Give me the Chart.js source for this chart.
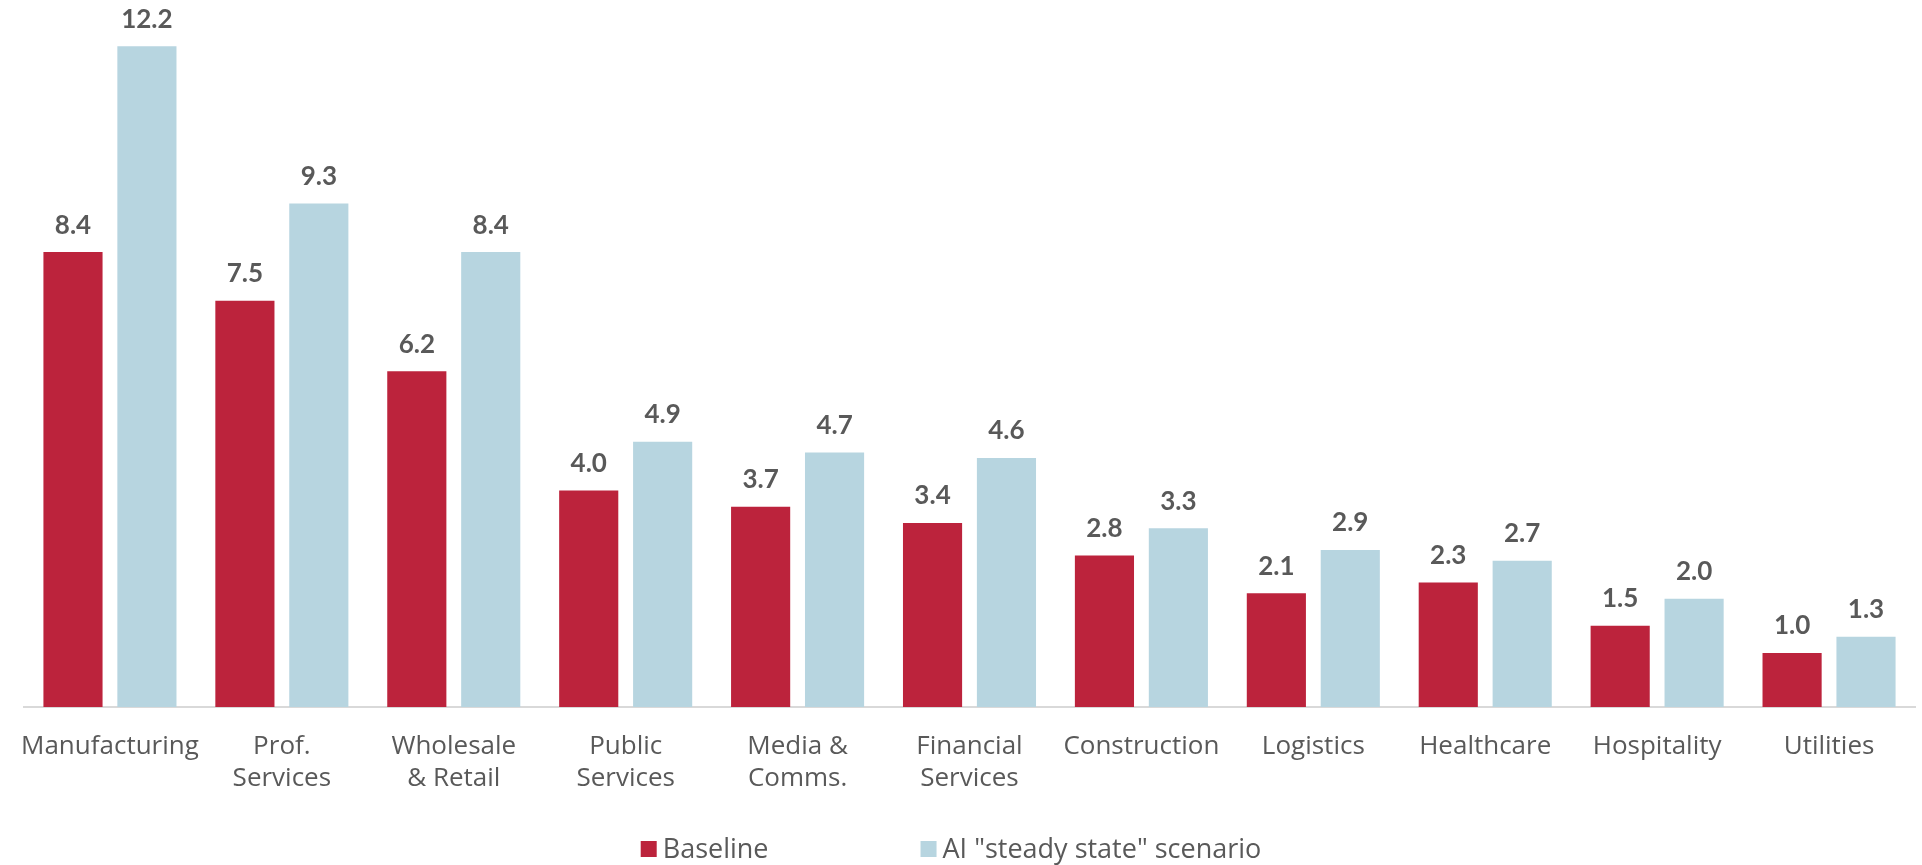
<!DOCTYPE html>
<html>
<head>
<meta charset="utf-8">
<script src="https://cdn.jsdelivr.net/npm/chart.js@4.4.1/dist/chart.umd.min.js"></script>
<style>
    html, body { margin: 0; padding: 0; background: #fff; }
    #wrap { width: 1922px; height: 865px; position: relative; }
</style>
</head>
<body>
<div id="wrap"><canvas id="barSetores"></canvas></div>
<script>
// setores e valores das duas séries
const setores = ['Manufacturing', ['Prof.', 'Services'], ['Wholesale', '& Retail'], ['Public', 'Services'],
    ['Media &', 'Comms.'], ['Financial', 'Services'], 'Construction', 'Logistics', 'Healthcare', 'Hospitality', 'Utilities'];
const baseline = [8.4, 7.5, 6.2, 4.0, 3.7, 3.4, 2.8, 2.1, 2.3, 1.5, 1.0];
const cenarioIA = [12.2, 9.3, 8.4, 4.9, 4.7, 4.6, 3.3, 2.9, 2.7, 2.0, 1.3];

const corTexto = '#595959';
const fonte = "'Open Sans', Lato, sans-serif";
const fonteNum = "Lato, 'Open Sans', sans-serif";

// rótulos de valor em cima das barras
const rotulosValor = {
    id: 'rotulosValor',
    afterDatasetsDraw(chart) {
        const ctx = chart.ctx;
        ctx.save();
        ctx.fillStyle = corTexto;
        ctx.font = 'bold 26px ' + fonteNum;
        ctx.textAlign = 'center';
        ctx.textBaseline = 'bottom';
        chart.data.datasets.forEach((ds, i) => {
            chart.getDatasetMeta(i).data.forEach((bar, j) => {
                ctx.fillText(ds.data[j].toFixed(1), bar.x, bar.y - 14);
            });
        });
        ctx.restore();
    }
};

// legenda embaixo, com espaço largo entre os itens
const legendaBaixo = {
    id: 'legendaBaixo',
    afterDraw(chart) {
        const ctx = chart.ctx;
        const caixa = 16, espaco = 6, intervalo = 152;
        const y = 849;
        ctx.save();
        ctx.font = '27px ' + fonte;
        ctx.textBaseline = 'middle';
        const itens = chart.data.datasets.map(ds => ({
            texto: ds.label, cor: ds.backgroundColor, largura: caixa + espaco + ctx.measureText(ds.label).width
        }));
        const total = itens.reduce((s, it) => s + it.largura, 0) + intervalo * (itens.length - 1);
        let x = chart.width / 2 - 10 - total / 2;
        itens.forEach(it => {
            ctx.fillStyle = it.cor;
            ctx.fillRect(x, y - caixa / 2, caixa, caixa);
            ctx.fillStyle = corTexto;
            ctx.fillText(it.texto, x + caixa + espaco, y + 1);
            x += it.largura + intervalo;
        });
        ctx.restore();
    }
};

const configSetores = {
    type: 'bar',
    data: {
        labels: setores,
        datasets: [{
            label: 'Baseline',
            data: baseline,
            backgroundColor: '#BC233C',
            categoryPercentage: 0.86,
            barPercentage: 0.8
        }, {
            label: 'AI "steady state" scenario',
            data: cenarioIA,
            backgroundColor: '#B7D5E0',
            categoryPercentage: 0.86,
            barPercentage: 0.8
        }]
    },
    options: {
        responsive: true,
        maintainAspectRatio: false,
        animation: false,
        layout: {
            padding: { top: 3, left: 24, right: 7, bottom: 54 }
        },
        scales: {
            x: {
                grid: { display: false },
                border: { color: '#D9D9D9', width: 2 },
                ticks: {
                    color: corTexto,
                    padding: 16,
                    maxRotation: 0,
                    autoSkip: false,
                    font: { size: 26, family: fonte, lineHeight: 1.23 }
                }
            },
            y: {
                display: false,
                min: 0,
                max: 13
            }
        },
        plugins: {
            legend: { display: false },
            tooltip: { enabled: false }
        }
    },
    plugins: [rotulosValor, legendaBaixo]
};

new Chart(document.getElementById('barSetores').getContext('2d'), configSetores);
</script>
</body>
</html>
